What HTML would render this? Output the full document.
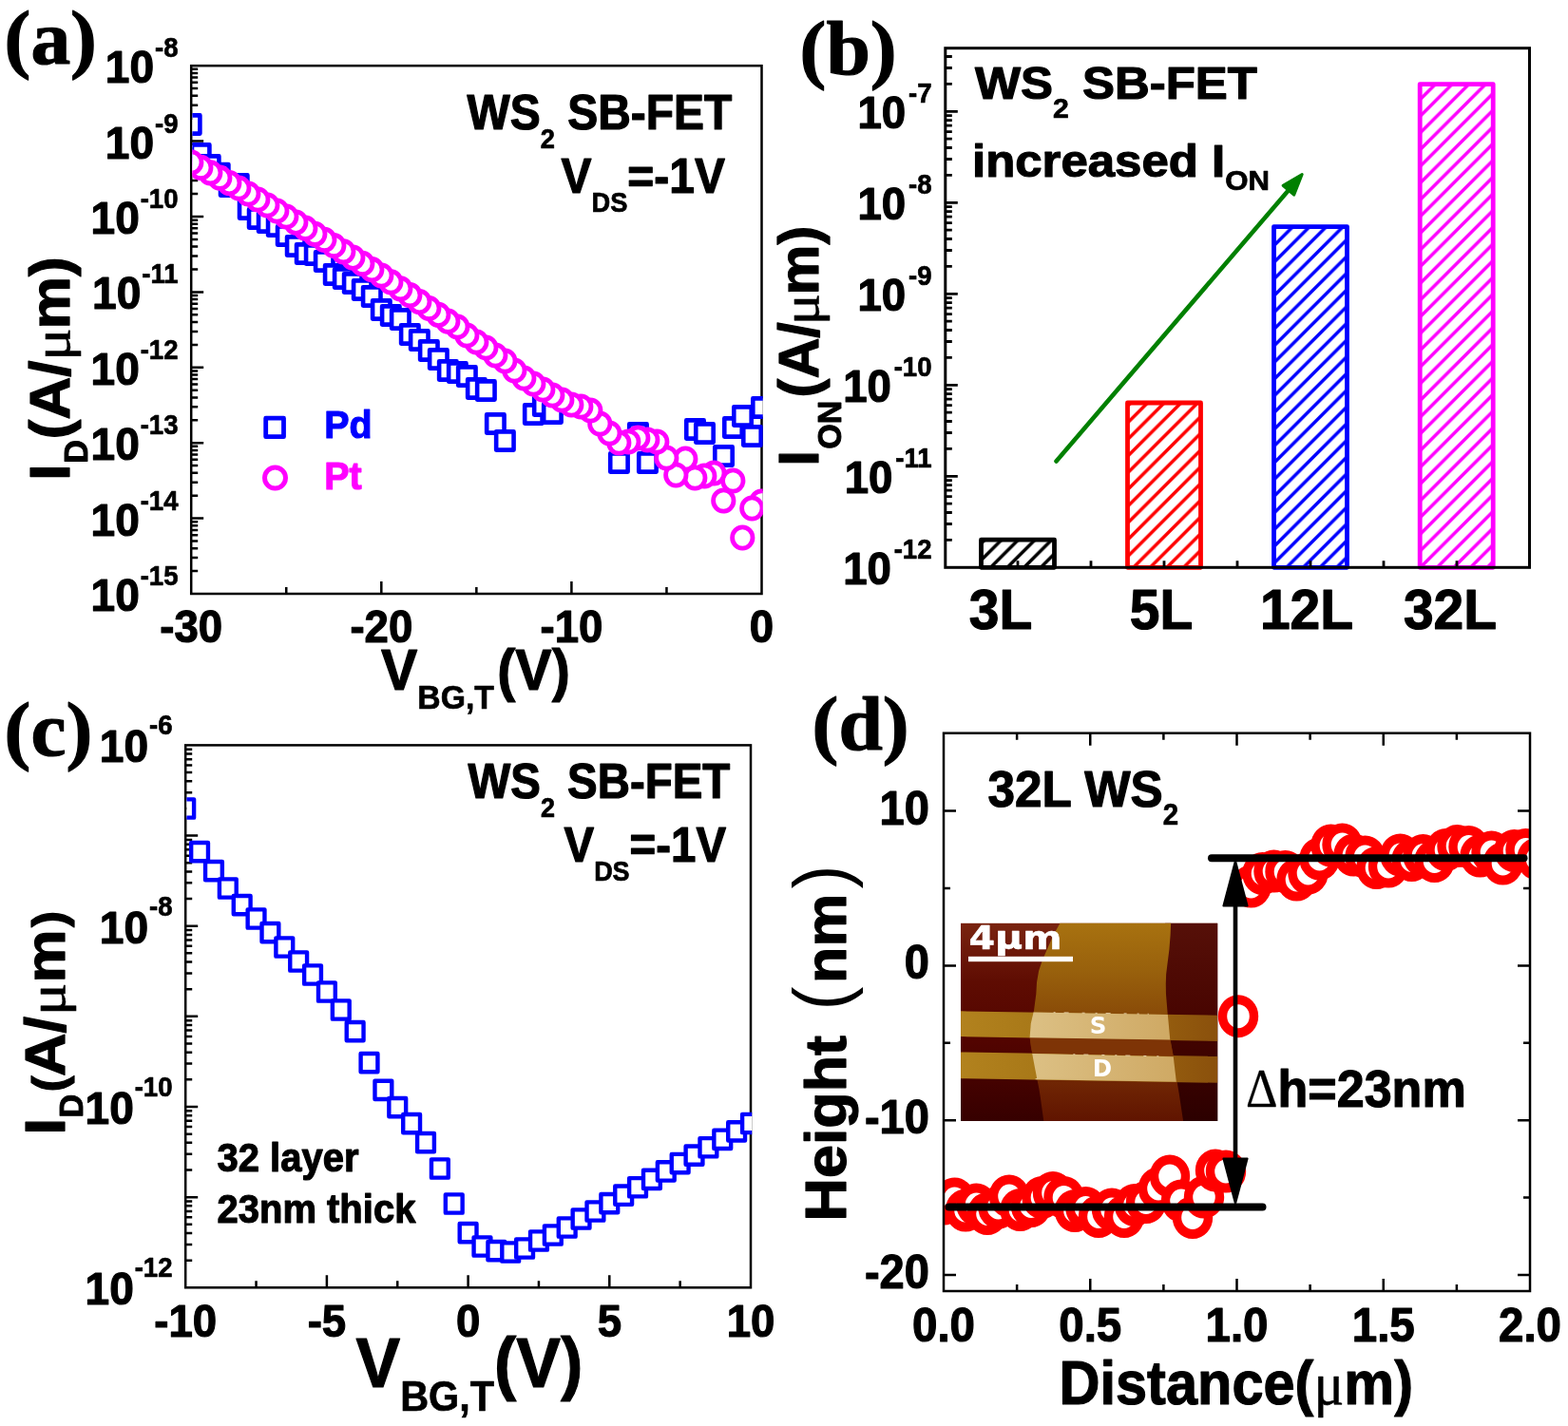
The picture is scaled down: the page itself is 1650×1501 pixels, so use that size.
<!DOCTYPE html>
<html lang="en"><head><meta charset="utf-8"><title>WS2 SB-FET characteristics</title>
<style>html,body{margin:0;padding:0;background:#fff}body{width:1650px;height:1501px;overflow:hidden}svg{display:block;font-family:'Liberation Sans', sans-serif;font-weight:bold;fill:#000}text{stroke-linejoin:round}</style></head><body>
<svg width="1650" height="1501" viewBox="0 0 1650 1501">
<rect width="1650" height="1501" fill="#fff"/>
<defs>
<clipPath id="ca"><rect x="202.4" y="69.2" width="600.3" height="555.8"/></clipPath>
<clipPath id="cc"><rect x="196.4" y="784.4" width="594.8" height="570.9"/></clipPath>
<clipPath id="cd"><rect x="993" y="771.7" width="617" height="587.3"/></clipPath>
<pattern id="hk" width="17.6" height="17.6" patternUnits="userSpaceOnUse" patternTransform="translate(1033 571.5)"><path d="M-4.4 4.4L4.4 -4.4M0 17.6L17.6 0M13.2 22L22 13.2" stroke="#000" stroke-width="3.5" fill="none"/></pattern>
<pattern id="hr" width="17.6" height="17.6" patternUnits="userSpaceOnUse" patternTransform="translate(1187 427)"><path d="M-4.4 4.4L4.4 -4.4M0 17.6L17.6 0M13.2 22L22 13.2" stroke="#ff0000" stroke-width="3.5" fill="none"/></pattern>
<pattern id="hb" width="17.6" height="17.6" patternUnits="userSpaceOnUse" patternTransform="translate(1341 240.5)"><path d="M-4.4 4.4L4.4 -4.4M0 17.6L17.6 0M13.2 22L22 13.2" stroke="#0000ff" stroke-width="3.5" fill="none"/></pattern>
<pattern id="hm" width="17.6" height="17.6" patternUnits="userSpaceOnUse" patternTransform="translate(1495 86.5)"><path d="M-4.4 4.4L4.4 -4.4M0 17.6L17.6 0M13.2 22L22 13.2" stroke="#ff00ff" stroke-width="3.5" fill="none"/></pattern>
<linearGradient id="g0" x1="0" y1="0" x2="0" y2="1"><stop offset="0" stop-color="#7a2410"/><stop offset="0.3" stop-color="#5e0c02"/><stop offset="0.6" stop-color="#520400"/><stop offset="1" stop-color="#360000"/></linearGradient><linearGradient id="g3" x1="0" y1="0" x2="0" y2="1"><stop offset="0" stop-color="#561008"/><stop offset="0.5" stop-color="#470400"/><stop offset="1" stop-color="#2c0000"/></linearGradient><linearGradient id="g1" x1="0" y1="0" x2="0" y2="1"><stop offset="0" stop-color="#a87210"/><stop offset="0.25" stop-color="#98600c"/><stop offset="0.45" stop-color="#8a4c08"/><stop offset="0.62" stop-color="#7c3406"/><stop offset="0.8" stop-color="#702604"/><stop offset="1" stop-color="#601400"/></linearGradient><linearGradient id="g2" x1="0" y1="0" x2="1" y2="0"><stop offset="0" stop-color="#b2821e"/><stop offset="0.3" stop-color="#a87818"/><stop offset="0.8" stop-color="#945c0e"/><stop offset="1" stop-color="#8a500c"/></linearGradient><linearGradient id="g4" x1="0" y1="0" x2="1" y2="0"><stop offset="0" stop-color="#dcc084"/><stop offset="1" stop-color="#cfa964"/></linearGradient><clipPath id="ci"><rect x="1011" y="971.6" width="270.3" height="208.4"/></clipPath>
</defs>
<g id="panel-a">
<path d="M201.2 601.1h7M201.2 587.12h7M201.2 577.2h7M201.2 569.5h7M201.2 563.21h7M201.2 557.9h7M201.2 553.29h7M201.2 549.23h7M201.2 545.6h13M201.2 521.7h7M201.2 507.72h7M201.2 497.8h7M201.2 490.1h7M201.2 483.81h7M201.2 478.5h7M201.2 473.89h7M201.2 469.83h7M201.2 466.2h13M201.2 442.3h7M201.2 428.32h7M201.2 418.4h7M201.2 410.7h7M201.2 404.41h7M201.2 399.1h7M201.2 394.49h7M201.2 390.43h7M201.2 386.8h13M201.2 362.9h7M201.2 348.92h7M201.2 339h7M201.2 331.3h7M201.2 325.01h7M201.2 319.7h7M201.2 315.09h7M201.2 311.03h7M201.2 307.4h13M201.2 283.5h7M201.2 269.52h7M201.2 259.6h7M201.2 251.9h7M201.2 245.61h7M201.2 240.3h7M201.2 235.69h7M201.2 231.63h7M201.2 228h13M201.2 204.1h7M201.2 190.12h7M201.2 180.2h7M201.2 172.5h7M201.2 166.21h7M201.2 160.9h7M201.2 156.29h7M201.2 152.23h7M201.2 148.6h13M201.2 124.7h7M201.2 110.72h7M201.2 100.8h7M201.2 93.1h7M201.2 86.81h7M201.2 81.5h7M201.2 76.89h7M201.2 72.83h7M301.25 625v-7M401.3 625v-13M501.35 625v-7M601.4 625v-13M701.45 625v-7" stroke="#000" stroke-width="2.5" fill="none"/>
<rect x="201.2" y="69.2" width="600.3" height="555.8" fill="none" stroke="#000" stroke-width="2.5"/>
<g clip-path="url(#ca)" fill="#fff" stroke-width="4.6" stroke-linejoin="round">
<g stroke="#0000ff">
<rect x="192" y="121.4" width="18.4" height="19.2"/>
<rect x="202" y="152.4" width="18.4" height="19.2"/>
<rect x="212.01" y="164.4" width="18.4" height="19.2"/>
<rect x="222.01" y="173" width="18.4" height="19.2"/>
<rect x="232.02" y="186.4" width="18.4" height="19.2"/>
<rect x="242.03" y="184.4" width="18.4" height="19.2"/>
<rect x="252.03" y="210.4" width="18.4" height="19.2"/>
<rect x="262.04" y="220.4" width="18.4" height="19.2"/>
<rect x="272.04" y="224.4" width="18.4" height="19.2"/>
<rect x="282.05" y="228.4" width="18.4" height="19.2"/>
<rect x="292.05" y="238.4" width="18.4" height="19.2"/>
<rect x="302.06" y="249.4" width="18.4" height="19.2"/>
<rect x="312.06" y="257.4" width="18.4" height="19.2"/>
<rect x="322.06" y="258.4" width="18.4" height="19.2"/>
<rect x="332.07" y="265.4" width="18.4" height="19.2"/>
<rect x="342.07" y="279.4" width="18.4" height="19.2"/>
<rect x="352.08" y="283.4" width="18.4" height="19.2"/>
<rect x="362.08" y="288.4" width="18.4" height="19.2"/>
<rect x="372.09" y="295.4" width="18.4" height="19.2"/>
<rect x="382.09" y="302.4" width="18.4" height="19.2"/>
<rect x="392.1" y="316.4" width="18.4" height="19.2"/>
<rect x="402.1" y="322.4" width="18.4" height="19.2"/>
<rect x="412.11" y="326.4" width="18.4" height="19.2"/>
<rect x="422.11" y="342.4" width="18.4" height="19.2"/>
<rect x="432.12" y="348.4" width="18.4" height="19.2"/>
<rect x="442.12" y="359.4" width="18.4" height="19.2"/>
<rect x="452.13" y="368.4" width="18.4" height="19.2"/>
<rect x="462.13" y="380.4" width="18.4" height="19.2"/>
<rect x="472.14" y="382.4" width="18.4" height="19.2"/>
<rect x="482.14" y="386.4" width="18.4" height="19.2"/>
<rect x="492.15" y="399.4" width="18.4" height="19.2"/>
<rect x="502.15" y="401.4" width="18.4" height="19.2"/>
<rect x="512.16" y="436.4" width="18.4" height="19.2"/>
<rect x="522.16" y="454.4" width="18.4" height="19.2"/>
<rect x="552.18" y="426.4" width="18.4" height="19.2"/>
<rect x="562.18" y="417.4" width="18.4" height="19.2"/>
<rect x="572.19" y="425.4" width="18.4" height="19.2"/>
<rect x="642.22" y="477.4" width="18.4" height="19.2"/>
<rect x="662.23" y="446.4" width="18.4" height="19.2"/>
<rect x="672.24" y="477.4" width="18.4" height="19.2"/>
<rect x="722.26" y="442.4" width="18.4" height="19.2"/>
<rect x="732.27" y="446.4" width="18.4" height="19.2"/>
<rect x="752.28" y="470.4" width="18.4" height="19.2"/>
<rect x="762.28" y="440.4" width="18.4" height="19.2"/>
<rect x="772.29" y="428.4" width="18.4" height="19.2"/>
<rect x="782.29" y="449.4" width="18.4" height="19.2"/>
<rect x="792.3" y="419.4" width="18.4" height="19.2"/>
</g>
<g stroke="#ff00ff" stroke-width="4.8">
<ellipse cx="801.3" cy="528" rx="10.7" ry="11.2"/>
<ellipse cx="791.3" cy="535" rx="10.7" ry="11.2"/>
<ellipse cx="781.3" cy="566" rx="10.7" ry="11.2"/>
<ellipse cx="771.3" cy="506" rx="10.7" ry="11.2"/>
<ellipse cx="761.3" cy="527" rx="10.7" ry="11.2"/>
<ellipse cx="751.3" cy="498" rx="10.7" ry="11.2"/>
<ellipse cx="741.3" cy="501" rx="10.7" ry="11.2"/>
<ellipse cx="731.3" cy="503" rx="10.7" ry="11.2"/>
<ellipse cx="721.3" cy="483" rx="10.7" ry="11.2"/>
<ellipse cx="711.3" cy="500" rx="10.7" ry="11.2"/>
<ellipse cx="701.3" cy="482" rx="10.7" ry="11.2"/>
<ellipse cx="691.3" cy="465" rx="10.7" ry="11.2"/>
<ellipse cx="681.3" cy="463" rx="10.7" ry="11.2"/>
<ellipse cx="671.3" cy="461" rx="10.7" ry="11.2"/>
<ellipse cx="661.3" cy="465" rx="10.7" ry="11.2"/>
<ellipse cx="651.3" cy="466" rx="10.7" ry="11.2"/>
<ellipse cx="641.3" cy="456" rx="10.7" ry="11.2"/>
<ellipse cx="631.3" cy="446" rx="10.7" ry="11.2"/>
<ellipse cx="621.3" cy="432" rx="10.7" ry="11.2"/>
<ellipse cx="611.3" cy="428" rx="10.7" ry="11.2"/>
<ellipse cx="601.3" cy="426" rx="10.7" ry="11.2"/>
<ellipse cx="591.3" cy="421" rx="10.7" ry="11.2"/>
<ellipse cx="581.3" cy="416" rx="10.7" ry="11.2"/>
<ellipse cx="571.3" cy="410" rx="10.7" ry="11.2"/>
<ellipse cx="561.3" cy="404" rx="10.7" ry="11.2"/>
<ellipse cx="551.3" cy="398" rx="10.7" ry="11.2"/>
<ellipse cx="541.3" cy="390" rx="10.7" ry="11.2"/>
<ellipse cx="531.3" cy="380" rx="10.7" ry="11.2"/>
<ellipse cx="521.3" cy="374" rx="10.7" ry="11.2"/>
<ellipse cx="511.3" cy="366" rx="10.7" ry="11.2"/>
<ellipse cx="501.3" cy="360" rx="10.7" ry="11.2"/>
<ellipse cx="491.3" cy="353" rx="10.7" ry="11.2"/>
<ellipse cx="481.3" cy="344" rx="10.7" ry="11.2"/>
<ellipse cx="471.3" cy="338.17" rx="10.7" ry="11.2"/>
<ellipse cx="461.3" cy="331.33" rx="10.7" ry="11.2"/>
<ellipse cx="451.3" cy="324.5" rx="10.7" ry="11.2"/>
<ellipse cx="441.3" cy="317.6" rx="10.7" ry="11.2"/>
<ellipse cx="431.3" cy="310.7" rx="10.7" ry="11.2"/>
<ellipse cx="421.3" cy="303.8" rx="10.7" ry="11.2"/>
<ellipse cx="411.3" cy="296.9" rx="10.7" ry="11.2"/>
<ellipse cx="401.3" cy="290" rx="10.7" ry="11.2"/>
<ellipse cx="391.3" cy="283.7" rx="10.7" ry="11.2"/>
<ellipse cx="381.3" cy="277.4" rx="10.7" ry="11.2"/>
<ellipse cx="371.3" cy="271.1" rx="10.7" ry="11.2"/>
<ellipse cx="361.3" cy="264.8" rx="10.7" ry="11.2"/>
<ellipse cx="351.3" cy="258.5" rx="10.7" ry="11.2"/>
<ellipse cx="341.3" cy="252.4" rx="10.7" ry="11.2"/>
<ellipse cx="331.3" cy="246.3" rx="10.7" ry="11.2"/>
<ellipse cx="321.3" cy="240.2" rx="10.7" ry="11.2"/>
<ellipse cx="311.3" cy="234.1" rx="10.7" ry="11.2"/>
<ellipse cx="301.3" cy="228" rx="10.7" ry="11.2"/>
<ellipse cx="291.3" cy="222" rx="10.7" ry="11.2"/>
<ellipse cx="281.3" cy="216" rx="10.7" ry="11.2"/>
<ellipse cx="271.3" cy="210" rx="10.7" ry="11.2"/>
<ellipse cx="261.3" cy="204" rx="10.7" ry="11.2"/>
<ellipse cx="251.3" cy="198" rx="10.7" ry="11.2"/>
<ellipse cx="241.3" cy="192.6" rx="10.7" ry="11.2"/>
<ellipse cx="231.3" cy="187.2" rx="10.7" ry="11.2"/>
<ellipse cx="221.3" cy="181.8" rx="10.7" ry="11.2"/>
<ellipse cx="211.3" cy="176.4" rx="10.7" ry="11.2"/>
<ellipse cx="201.3" cy="171" rx="10.7" ry="11.2"/>
</g></g>
<rect x="279.7" y="440.2" width="18.8" height="19.5" fill="#fff" stroke="#0000ff" stroke-width="4.8" stroke-linejoin="round"/>
<ellipse cx="289.5" cy="503" rx="11" ry="11.1" fill="#fff" stroke="#ff00ff" stroke-width="5"/>
<text transform="translate(341.3 461.3) scale(0.95 1)" font-size="41.5" fill="#0000ff" stroke="#0000ff" stroke-width="1.2">Pd</text>
<text transform="translate(341.3 514.6) scale(0.95 1)" font-size="41.5" fill="#ff00ff" stroke="#ff00ff" stroke-width="1.2">Pt</text>
<text transform="translate(187.5 87.2) scale(0.95 1)" font-size="48.5" text-anchor="end" stroke="#000" stroke-width="1.2">10<tspan dx="1" dy="-27" font-size="29" stroke-width="0.7">-8</tspan></text>
<text transform="translate(187.5 166.6) scale(0.95 1)" font-size="48.5" text-anchor="end" stroke="#000" stroke-width="1.2">10<tspan dx="1" dy="-27" font-size="29" stroke-width="0.7">-9</tspan></text>
<text transform="translate(187.5 246) scale(0.95 1)" font-size="48.5" text-anchor="end" stroke="#000" stroke-width="1.2">10<tspan dx="1" dy="-27" font-size="29" stroke-width="0.7">-10</tspan></text>
<text transform="translate(187.5 325.4) scale(0.95 1)" font-size="48.5" text-anchor="end" stroke="#000" stroke-width="1.2">10<tspan dx="1" dy="-27" font-size="29" stroke-width="0.7">-11</tspan></text>
<text transform="translate(187.5 404.8) scale(0.95 1)" font-size="48.5" text-anchor="end" stroke="#000" stroke-width="1.2">10<tspan dx="1" dy="-27" font-size="29" stroke-width="0.7">-12</tspan></text>
<text transform="translate(187.5 484.2) scale(0.95 1)" font-size="48.5" text-anchor="end" stroke="#000" stroke-width="1.2">10<tspan dx="1" dy="-27" font-size="29" stroke-width="0.7">-13</tspan></text>
<text transform="translate(187.5 563.6) scale(0.95 1)" font-size="48.5" text-anchor="end" stroke="#000" stroke-width="1.2">10<tspan dx="1" dy="-27" font-size="29" stroke-width="0.7">-14</tspan></text>
<text transform="translate(187.5 643) scale(0.95 1)" font-size="48.5" text-anchor="end" stroke="#000" stroke-width="1.2">10<tspan dx="1" dy="-27" font-size="29" stroke-width="0.7">-15</tspan></text>
<text transform="translate(201.2 676.3) scale(0.93 1)" font-size="49" text-anchor="middle" stroke="#000" stroke-width="1.2">-30</text>
<text transform="translate(401.3 676.3) scale(0.93 1)" font-size="49" text-anchor="middle" stroke="#000" stroke-width="1.2">-20</text>
<text transform="translate(601.4 676.3) scale(0.93 1)" font-size="49" text-anchor="middle" stroke="#000" stroke-width="1.2">-10</text>
<text transform="translate(801.5 676.3) scale(0.93 1)" font-size="49" text-anchor="middle" stroke="#000" stroke-width="1.2">0</text>
<text transform="translate(73.4 505.8) rotate(-90) scale(1.04 1)" font-size="60" stroke="#000" stroke-width="1.2">I</text>
<text transform="translate(92.4 487.8) rotate(-90) scale(0.99 1)" font-size="34.5" stroke="#000" stroke-width="0.9">D</text>
<text transform="translate(73.4 462.5) rotate(-90) scale(1.04 1)" font-size="60" stroke="#000" stroke-width="1.2">(</text>
<text transform="translate(73.4 441.7) rotate(-90) scale(1.04 1)" font-size="60" stroke="#000" stroke-width="1.2">A/</text>
<text transform="translate(73.4 380.1) rotate(-90) scale(1.2 1)" font-size="54" font-family="'Liberation Serif', serif" font-weight="normal" stroke="#000" stroke-width="0.6">μ</text>
<text transform="translate(73.4 346.5) rotate(-90) scale(1.04 1)" font-size="60" stroke="#000" stroke-width="1.2">m</text>
<text transform="translate(73.4 291) rotate(-90) scale(1.04 1)" font-size="60" stroke="#000" stroke-width="1.2">)</text>
<text transform="translate(401 726.3) scale(0.95 1)" font-size="60.5" stroke="#000" stroke-width="1.2">V<tspan dy="20" font-size="35.5" stroke-width="0.7">BG,T</tspan><tspan dx="3.5" dy="-20" font-size="60.5" stroke-width="1.2">(V)</tspan></text>
<text transform="translate(491.5 135.5) scale(0.94 1)" font-size="51" stroke="#000" stroke-width="1.2">WS<tspan dy="20" font-size="29" stroke-width="0.7">2</tspan><tspan dy="-20" font-size="51" stroke-width="1.2"> SB-FET</tspan></text>
<text transform="translate(590.5 202.5) scale(0.94 1)" font-size="51" stroke="#000" stroke-width="1.2">V<tspan dy="20" font-size="29" stroke-width="0.7">DS</tspan><tspan dy="-20" font-size="51" stroke-width="1.2">=-1V</tspan></text>
<text transform="translate(4.6 67) scale(1.03 1)" font-size="81" font-family="'Liberation Serif', serif" stroke="#000" stroke-width="1.2">(a)</text>
</g>
<g id="panel-b">
<rect x="1032.5" y="568.2" width="77" height="29.1" fill="url(#hk)" stroke="#000" stroke-width="4.8" stroke-linejoin="round"/>
<rect x="1186.5" y="424" width="77" height="173.3" fill="url(#hr)" stroke="#ff0000" stroke-width="4.8" stroke-linejoin="round"/>
<rect x="1340.5" y="238.6" width="77" height="358.7" fill="url(#hb)" stroke="#0000ff" stroke-width="4.8" stroke-linejoin="round"/>
<rect x="1494.2" y="88.6" width="77" height="508.7" fill="url(#hm)" stroke="#ff00ff" stroke-width="4.8" stroke-linejoin="round"/>
<line x1="1111.5" y1="485.5" x2="1357.84" y2="197.95" stroke="#008000" stroke-width="4.6" stroke-linecap="round"/>
<path d="M1370.2 183.52L1361.66 205.17L1350.11 195.28z" fill="#008000" stroke="#008000" stroke-width="3" stroke-linejoin="round"/>
<rect x="994.8" y="50.7" width="614.7" height="546.6" fill="none" stroke="#000" stroke-width="3"/>
<path d="M994.8 568.4h7M994.8 551.5h7M994.8 539.5h7M994.8 530.2h7M994.8 522.6h7M994.8 516.17h7M994.8 510.6h7M994.8 505.69h7M994.8 501.3h13M994.8 472.4h7M994.8 455.5h7M994.8 443.5h7M994.8 434.2h7M994.8 426.6h7M994.8 420.17h7M994.8 414.6h7M994.8 409.69h7M994.8 405.3h13M994.8 376.4h7M994.8 359.5h7M994.8 347.5h7M994.8 338.2h7M994.8 330.6h7M994.8 324.17h7M994.8 318.6h7M994.8 313.69h7M994.8 309.3h13M994.8 280.4h7M994.8 263.5h7M994.8 251.5h7M994.8 242.2h7M994.8 234.6h7M994.8 228.17h7M994.8 222.6h7M994.8 217.69h7M994.8 213.3h13M994.8 184.4h7M994.8 167.5h7M994.8 155.5h7M994.8 146.2h7M994.8 138.6h7M994.8 132.17h7M994.8 126.6h7M994.8 121.69h7M994.8 117.3h13M994.8 88.4h7M994.8 71.5h7M994.8 59.5h7M1071 597.3v-7M1148 597.3v-7M1225 597.3v-7M1302 597.3v-7M1379 597.3v-7M1456 597.3v-7M1533 597.3v-7" stroke="#000" stroke-width="2.8" fill="none"/>
<text transform="translate(980.5 614.8) scale(0.95 1)" font-size="48" text-anchor="end" stroke="#000" stroke-width="1.2">10<tspan dx="3" dy="-27" font-size="29" stroke-width="0.7">-12</tspan></text>
<text transform="translate(980.5 518.8) scale(0.95 1)" font-size="48" text-anchor="end" stroke="#000" stroke-width="1.2">10<tspan dx="3" dy="-27" font-size="29" stroke-width="0.7">-11</tspan></text>
<text transform="translate(980.5 422.8) scale(0.95 1)" font-size="48" text-anchor="end" stroke="#000" stroke-width="1.2">10<tspan dx="3" dy="-27" font-size="29" stroke-width="0.7">-10</tspan></text>
<text transform="translate(980.5 326.8) scale(0.95 1)" font-size="48" text-anchor="end" stroke="#000" stroke-width="1.2">10<tspan dx="3" dy="-27" font-size="29" stroke-width="0.7">-9</tspan></text>
<text transform="translate(980.5 230.8) scale(0.95 1)" font-size="48" text-anchor="end" stroke="#000" stroke-width="1.2">10<tspan dx="3" dy="-27" font-size="29" stroke-width="0.7">-8</tspan></text>
<text transform="translate(980.5 134.8) scale(0.95 1)" font-size="48" text-anchor="end" stroke="#000" stroke-width="1.2">10<tspan dx="3" dy="-27" font-size="29" stroke-width="0.7">-7</tspan></text>
<text transform="translate(1053 662) scale(0.95 1)" font-size="60" text-anchor="middle" stroke="#000" stroke-width="1.2">3L</text>
<text transform="translate(1222 662) scale(0.95 1)" font-size="60" text-anchor="middle" stroke="#000" stroke-width="1.2">5L</text>
<text transform="translate(1375 662) scale(0.95 1)" font-size="60" text-anchor="middle" stroke="#000" stroke-width="1.2">12L</text>
<text transform="translate(1526 662) scale(0.95 1)" font-size="60" text-anchor="middle" stroke="#000" stroke-width="1.2">32L</text>
<text transform="translate(860.8 490.8) rotate(-90) scale(0.99 1)" font-size="60" stroke="#000" stroke-width="1.2">I</text>
<text transform="translate(884.6 472.8) rotate(-90) scale(0.99 1)" font-size="34.5" stroke="#000" stroke-width="0.9">ON</text>
<text transform="translate(860.8 418.4) rotate(-90) scale(0.99 1)" font-size="60" stroke="#000" stroke-width="1.2">(</text>
<text transform="translate(860.8 398.6) rotate(-90) scale(0.99 1)" font-size="60" stroke="#000" stroke-width="1.2">A/</text>
<text transform="translate(860.8 342.3) rotate(-90) scale(1.15 1)" font-size="54" font-family="'Liberation Serif', serif" font-weight="normal" stroke="#000" stroke-width="0.6">μ</text>
<text transform="translate(860.8 310.4) rotate(-90) scale(0.99 1)" font-size="60" stroke="#000" stroke-width="1.2">m</text>
<text transform="translate(860.8 257.6) rotate(-90) scale(0.99 1)" font-size="60" stroke="#000" stroke-width="1.2">)</text>
<text transform="translate(1026 104.3) scale(1.04 1)" font-size="49" stroke="#000" stroke-width="1.2">WS<tspan dy="20" font-size="29" stroke-width="0.7">2</tspan><tspan dy="-20" font-size="49" stroke-width="1.2"> SB-FET</tspan></text>
<text transform="translate(1023 185.5) scale(1.04 1)" font-size="49" stroke="#000" stroke-width="1.2">increased I<tspan dy="14" font-size="30" stroke-width="0.7">ON</tspan></text>
<text transform="translate(841.6 78) scale(1.03 1)" font-size="81" font-family="'Liberation Serif', serif" stroke="#000" stroke-width="1.2">(b)</text>
</g>
<g id="panel-c">
<path d="M195.2 1326.66h7M195.2 1309.9h7M195.2 1298.01h7M195.2 1288.79h7M195.2 1281.26h7M195.2 1274.89h7M195.2 1269.37h7M195.2 1264.5h7M195.2 1260.15h13M195.2 1231.51h7M195.2 1214.75h7M195.2 1202.86h7M195.2 1193.64h7M195.2 1186.11h7M195.2 1179.74h7M195.2 1174.22h7M195.2 1169.35h7M195.2 1165h13M195.2 1136.36h7M195.2 1119.6h7M195.2 1107.71h7M195.2 1098.49h7M195.2 1090.96h7M195.2 1084.59h7M195.2 1079.07h7M195.2 1074.2h7M195.2 1069.85h13M195.2 1041.21h7M195.2 1024.45h7M195.2 1012.56h7M195.2 1003.34h7M195.2 995.81h7M195.2 989.44h7M195.2 983.92h7M195.2 979.05h7M195.2 974.7h13M195.2 946.06h7M195.2 929.3h7M195.2 917.41h7M195.2 908.19h7M195.2 900.66h7M195.2 894.29h7M195.2 888.77h7M195.2 883.9h7M195.2 879.55h13M195.2 850.91h7M195.2 834.15h7M195.2 822.26h7M195.2 813.04h7M195.2 805.51h7M195.2 799.14h7M195.2 793.62h7M195.2 788.75h7M269.55 1355.3v-7M343.9 1355.3v-13M418.25 1355.3v-7M492.6 1355.3v-13M566.95 1355.3v-7M641.3 1355.3v-13M715.65 1355.3v-7" stroke="#000" stroke-width="2.5" fill="none"/>
<rect x="195.2" y="784.4" width="594.8" height="570.9" fill="none" stroke="#000" stroke-width="2.5"/>
<g clip-path="url(#cc)" fill="#fff" stroke="#0000ff" stroke-width="4.4" stroke-linejoin="round">
<rect x="186.3" y="841.35" width="17.8" height="19.3"/>
<rect x="201.17" y="886.95" width="17.8" height="19.3"/>
<rect x="216.04" y="906.95" width="17.8" height="19.3"/>
<rect x="230.91" y="925.35" width="17.8" height="19.3"/>
<rect x="245.78" y="942.95" width="17.8" height="19.3"/>
<rect x="260.65" y="957.35" width="17.8" height="19.3"/>
<rect x="275.52" y="971.95" width="17.8" height="19.3"/>
<rect x="290.39" y="987.35" width="17.8" height="19.3"/>
<rect x="305.26" y="1002.35" width="17.8" height="19.3"/>
<rect x="320.13" y="1016.35" width="17.8" height="19.3"/>
<rect x="335" y="1034.35" width="17.8" height="19.3"/>
<rect x="349.87" y="1053.35" width="17.8" height="19.3"/>
<rect x="364.74" y="1075.95" width="17.8" height="19.3"/>
<rect x="379.61" y="1108.95" width="17.8" height="19.3"/>
<rect x="394.48" y="1137.75" width="17.8" height="19.3"/>
<rect x="409.35" y="1155.95" width="17.8" height="19.3"/>
<rect x="424.22" y="1172.95" width="17.8" height="19.3"/>
<rect x="439.09" y="1192.95" width="17.8" height="19.3"/>
<rect x="453.96" y="1220.35" width="17.8" height="19.3"/>
<rect x="468.83" y="1257.35" width="17.8" height="19.3"/>
<rect x="483.7" y="1287.95" width="17.8" height="19.3"/>
<rect x="498.57" y="1302.35" width="17.8" height="19.3"/>
<rect x="513.44" y="1306.95" width="17.8" height="19.3"/>
<rect x="528.31" y="1308.35" width="17.8" height="19.3"/>
<rect x="543.18" y="1304.35" width="17.8" height="19.3"/>
<rect x="558.05" y="1296.35" width="17.8" height="19.3"/>
<rect x="572.92" y="1290.35" width="17.8" height="19.3"/>
<rect x="587.79" y="1282.35" width="17.8" height="19.3"/>
<rect x="602.66" y="1273.35" width="17.8" height="19.3"/>
<rect x="617.53" y="1265.35" width="17.8" height="19.3"/>
<rect x="632.4" y="1256.94" width="17.8" height="19.3"/>
<rect x="647.27" y="1248.53" width="17.8" height="19.3"/>
<rect x="662.14" y="1240.12" width="17.8" height="19.3"/>
<rect x="677.01" y="1231.71" width="17.8" height="19.3"/>
<rect x="691.88" y="1223.3" width="17.8" height="19.3"/>
<rect x="706.75" y="1214.9" width="17.8" height="19.3"/>
<rect x="721.62" y="1206.49" width="17.8" height="19.3"/>
<rect x="736.49" y="1198.08" width="17.8" height="19.3"/>
<rect x="751.36" y="1189.67" width="17.8" height="19.3"/>
<rect x="766.23" y="1181.26" width="17.8" height="19.3"/>
<rect x="781.1" y="1172.85" width="17.8" height="19.3"/>
</g>
<text transform="translate(181.5 802.4) scale(0.95 1)" font-size="48.5" text-anchor="end" stroke="#000" stroke-width="1.2">10<tspan dx="1" dy="-29" font-size="29" stroke-width="0.7">-6</tspan></text>
<text transform="translate(181.5 992.7) scale(0.95 1)" font-size="48.5" text-anchor="end" stroke="#000" stroke-width="1.2">10<tspan dx="1" dy="-29" font-size="29" stroke-width="0.7">-8</tspan></text>
<text transform="translate(181.5 1183) scale(0.95 1)" font-size="48.5" text-anchor="end" stroke="#000" stroke-width="1.2">10<tspan dx="1" dy="-29" font-size="29" stroke-width="0.7">-10</tspan></text>
<text transform="translate(181.5 1373.3) scale(0.95 1)" font-size="48.5" text-anchor="end" stroke="#000" stroke-width="1.2">10<tspan dx="1" dy="-29" font-size="29" stroke-width="0.7">-12</tspan></text>
<text transform="translate(195.2 1407) scale(0.93 1)" font-size="49" text-anchor="middle" stroke="#000" stroke-width="1.2">-10</text>
<text transform="translate(343.9 1407) scale(0.93 1)" font-size="49" text-anchor="middle" stroke="#000" stroke-width="1.2">-5</text>
<text transform="translate(492.6 1407) scale(0.93 1)" font-size="49" text-anchor="middle" stroke="#000" stroke-width="1.2">0</text>
<text transform="translate(641.3 1407) scale(0.93 1)" font-size="49" text-anchor="middle" stroke="#000" stroke-width="1.2">5</text>
<text transform="translate(790 1407) scale(0.93 1)" font-size="49" text-anchor="middle" stroke="#000" stroke-width="1.2">10</text>
<text transform="translate(67.8 1194.6) rotate(-90) scale(1.05 1)" font-size="60" stroke="#000" stroke-width="1.2">I</text>
<text transform="translate(86.8 1176.6) rotate(-90) scale(0.99 1)" font-size="34.5" stroke="#000" stroke-width="0.9">D</text>
<text transform="translate(67.8 1149.4) rotate(-90) scale(1.05 1)" font-size="49" stroke="#000" stroke-width="1.2">(</text>
<text transform="translate(67.8 1132.9) rotate(-90) scale(1.05 1)" font-size="60" stroke="#000" stroke-width="1.2">A/</text>
<text transform="translate(67.8 1069.3) rotate(-90) scale(1.2 1)" font-size="54" font-family="'Liberation Serif', serif" font-weight="normal" stroke="#000" stroke-width="0.6">μ</text>
<text transform="translate(67.8 1034.6) rotate(-90) scale(1.05 1)" font-size="60" stroke="#000" stroke-width="1.2">m</text>
<text transform="translate(67.8 976.1) rotate(-90) scale(1.05 1)" font-size="49" stroke="#000" stroke-width="1.2">)</text>
<text transform="translate(374.5 1459.5) scale(0.94 1)" font-size="74.5" stroke="#000" stroke-width="1.2">V<tspan dy="25" font-size="44" stroke-width="0.7">BG,T</tspan><tspan dy="-25" font-size="74.5" stroke-width="1.2">(V)</tspan></text>
<text transform="translate(492.5 839.5) scale(0.93 1)" font-size="51" stroke="#000" stroke-width="1.2">WS<tspan dy="20" font-size="29" stroke-width="0.7">2</tspan><tspan dy="-20" font-size="51" stroke-width="1.2"> SB-FET</tspan></text>
<text transform="translate(593.5 906.5) scale(0.93 1)" font-size="51" stroke="#000" stroke-width="1.2">V<tspan dy="20" font-size="29" stroke-width="0.7">DS</tspan><tspan dy="-20" font-size="51" stroke-width="1.2">=-1V</tspan></text>
<text transform="translate(228.5 1233) scale(0.93 1)" font-size="43" stroke="#000" stroke-width="1.2">32 layer</text>
<text transform="translate(228.5 1287) scale(0.93 1)" font-size="43" stroke="#000" stroke-width="1.2">23nm thick</text>
<text transform="translate(4.6 795) scale(1.03 1)" font-size="81" font-family="'Liberation Serif', serif" stroke="#000" stroke-width="1.2">(c)</text>
</g>
<g id="panel-d">
<path d="M993 853.6h13M1610 853.6h-13M993 935h7M1610 935h-7M993 1016.4h13M1610 1016.4h-13M993 1097.8h7M1610 1097.8h-7M993 1179.2h13M1610 1179.2h-13M993 1260.6h7M1610 1260.6h-7M993 1342h13M1610 1342h-13M1070.12 1359v-7M1070.12 771.7v7M1147.25 1359v-13M1147.25 771.7v13M1224.38 1359v-7M1224.38 771.7v7M1301.5 1359v-13M1301.5 771.7v13M1378.62 1359v-7M1378.62 771.7v7M1455.75 1359v-13M1455.75 771.7v13M1532.88 1359v-7M1532.88 771.7v7" stroke="#000" stroke-width="2.5" fill="none"/>
<g clip-path="url(#ci)">
<rect x="1011" y="971.6" width="270.3" height="208.4" fill="url(#g0)"/>
<rect x="1226.09" y="971.6" width="60" height="208.4" fill="url(#g3)"/>
<path d="M1115.55 971.56L1108.64 984L1101.73 999.55L1096.55 1011.64L1093.09 1022L1091.02 1034.09L1090.33 1046.18L1087.91 1064.32L1084.8 1077.27L1083.59 1091.09L1084.8 1101.45L1086.18 1108.36L1088.6 1122.18L1091.36 1136L1093.44 1146.36L1094.82 1155L1098.27 1180.05L1245.09 1180.05L1240.77 1151.55L1237.32 1130.82L1234.73 1111.82L1231.27 1092.82L1229.55 1077.27L1228.68 1066.91L1226.95 1046.18L1226.78 1035.82L1227.13 1025.45L1228.85 1011.64L1230.41 999.55L1231.62 984L1232.14 971.56z" fill="url(#g1)"/>
<path d="M1011.05 1064.32L1281.36 1068.64L1281.36 1095.93L1011.05 1091.09z" fill="url(#g2)"/>
<path d="M1011.05 1107.5L1281.36 1111.82L1281.36 1139.8L1011.05 1135.14z" fill="url(#g2)"/>
<path d="M1083.59 1091.78L1231.27 1094.2L1234.73 1111.82L1086.18 1108.71z" fill="#7e3406"/>
<path d="M1087.56 1065.53L1228.85 1067.95L1231.27 1094.55L1083.59 1092.13L1084.8 1077.27z" fill="url(#g4)"/>
<path d="M1086.18 1108.88L1234.73 1112.16L1237.84 1138.76L1091.36 1136.35z" fill="url(#g4)"/>
<path d="M1108.64 1065.7L1208.82 1067.25M1129.36 1109.75L1227.82 1111.99M1089.64 1135.65L1094.82 1135.83" stroke="#f2e4c0" stroke-width="1" fill="none" stroke-dasharray="2 9 5 14 3 11" opacity="0.8"/>
</g>
<rect x="1019" y="1006.8" width="110" height="5.4" fill="#fff"/>
<text transform="translate(1019.5 998.6) scale(1.2 1)" font-size="33" fill="#fff" stroke="#fff" stroke-width="0.5" font-family="'DejaVu Sans', sans-serif">4µm</text>
<text x="1155.5" y="1088.3" font-size="24.5" fill="#fff" text-anchor="middle" font-family="'DejaVu Sans', sans-serif">S</text>
<text x="1160" y="1133.3" font-size="24.5" fill="#fff" text-anchor="middle" font-family="'DejaVu Sans', sans-serif">D</text>
<g clip-path="url(#cd)"><g transform="scale(1 1.06)" fill="#fff" stroke="#ff0000" stroke-width="9.4">
<circle cx="993" cy="1195.28" r="16.5"/>
<circle cx="1004.5" cy="1190.57" r="16.5"/>
<circle cx="1016" cy="1201.89" r="16.5"/>
<circle cx="1027.5" cy="1196.23" r="16.5"/>
<circle cx="1039" cy="1205.19" r="16.5"/>
<circle cx="1050.5" cy="1199.06" r="16.5"/>
<circle cx="1062" cy="1187.74" r="16.5"/>
<circle cx="1073.5" cy="1201.42" r="16.5"/>
<circle cx="1085" cy="1197.64" r="16.5"/>
<circle cx="1096.5" cy="1189.15" r="16.5"/>
<circle cx="1108" cy="1184.43" r="16.5"/>
<circle cx="1119.5" cy="1189.15" r="16.5"/>
<circle cx="1131" cy="1202.36" r="16.5"/>
<circle cx="1142.5" cy="1199.53" r="16.5"/>
<circle cx="1156" cy="1208.02" r="16.5"/>
<circle cx="1170" cy="1200.94" r="16.5"/>
<circle cx="1183" cy="1208.02" r="16.5"/>
<circle cx="1194" cy="1196.7" r="16.5"/>
<circle cx="1206" cy="1193.87" r="16.5"/>
<circle cx="1219" cy="1180.19" r="16.5"/>
<circle cx="1231" cy="1167.92" r="16.5"/>
<circle cx="1243" cy="1192.45" r="16.5"/>
<circle cx="1255" cy="1208.96" r="16.5"/>
<circle cx="1267" cy="1188.68" r="16.5"/>
<circle cx="1279" cy="1162.26" r="16.5"/>
<circle cx="1290" cy="1163.21" r="16.5"/>
<circle cx="1303" cy="1009.15" r="16.5"/>
<circle cx="1316.5" cy="880.19" r="16.5"/>
<circle cx="1328.5" cy="867.45" r="16.5"/>
<circle cx="1340.5" cy="865.09" r="16.5"/>
<circle cx="1352.5" cy="865.57" r="16.5"/>
<circle cx="1364.5" cy="873.58" r="16.5"/>
<circle cx="1376.5" cy="866.98" r="16.5"/>
<circle cx="1388.5" cy="852.83" r="16.5"/>
<circle cx="1400.5" cy="839.62" r="16.5"/>
<circle cx="1412.5" cy="838.68" r="16.5"/>
<circle cx="1424.5" cy="849.06" r="16.5"/>
<circle cx="1436.5" cy="850.94" r="16.5"/>
<circle cx="1448.5" cy="861.79" r="16.5"/>
<circle cx="1461" cy="860.38" r="16.5"/>
<circle cx="1473.5" cy="849.06" r="16.5"/>
<circle cx="1485.5" cy="854.25" r="16.5"/>
<circle cx="1497.5" cy="849.53" r="16.5"/>
<circle cx="1509.5" cy="855.19" r="16.5"/>
<circle cx="1521.5" cy="843.87" r="16.5"/>
<circle cx="1533.5" cy="840.09" r="16.5"/>
<circle cx="1545.5" cy="841.04" r="16.5"/>
<circle cx="1557.5" cy="850" r="16.5"/>
<circle cx="1569.5" cy="846.23" r="16.5"/>
<circle cx="1581.5" cy="857.55" r="16.5"/>
<circle cx="1593.5" cy="844.81" r="16.5"/>
<circle cx="1605.5" cy="843.87" r="16.5"/>
<circle cx="1617.5" cy="852.83" r="16.5"/>
</g></g>
<line x1="998.5" y1="1270.5" x2="1328.5" y2="1270.5" stroke="#000" stroke-width="8" stroke-linecap="round"/>
<line x1="1275" y1="903.3" x2="1603.5" y2="903.3" stroke="#000" stroke-width="8" stroke-linecap="round"/>
<line x1="1300" y1="950" x2="1300" y2="1225" stroke="#000" stroke-width="4.6"/>
<path d="M1300 906L1312.6 953.5H1287.4z" fill="#000" stroke="#000" stroke-width="2" stroke-linejoin="round"/>
<path d="M1300 1267L1312.6 1219.5H1287.4z" fill="#000" stroke="#000" stroke-width="2" stroke-linejoin="round"/>
<rect x="993" y="771.7" width="617" height="587.3" fill="none" stroke="#000" stroke-width="2.5"/>
<text transform="translate(977.8 867.6) scale(0.94 1)" font-size="50" text-anchor="end" stroke="#000" stroke-width="1.2">10</text>
<text transform="translate(977.8 1030.4) scale(0.94 1)" font-size="50" text-anchor="end" stroke="#000" stroke-width="1.2">0</text>
<text transform="translate(977.8 1193.2) scale(0.94 1)" font-size="50" text-anchor="end" stroke="#000" stroke-width="1.2">-10</text>
<text transform="translate(977.8 1356) scale(0.94 1)" font-size="50" text-anchor="end" stroke="#000" stroke-width="1.2">-20</text>
<text transform="translate(993 1411.8) scale(0.95 1)" font-size="50" text-anchor="middle" stroke="#000" stroke-width="1.2">0.0</text>
<text transform="translate(1147.25 1411.8) scale(0.95 1)" font-size="50" text-anchor="middle" stroke="#000" stroke-width="1.2">0.5</text>
<text transform="translate(1301.5 1411.8) scale(0.95 1)" font-size="50" text-anchor="middle" stroke="#000" stroke-width="1.2">1.0</text>
<text transform="translate(1455.75 1411.8) scale(0.95 1)" font-size="50" text-anchor="middle" stroke="#000" stroke-width="1.2">1.5</text>
<text transform="translate(1610 1411.8) scale(0.95 1)" font-size="50" text-anchor="middle" stroke="#000" stroke-width="1.2">2.0</text>
<text transform="translate(890.3 1285.4) rotate(-90) scale(1.03 1)" font-size="61" stroke="#000" stroke-width="1.2">Height</text>
<text transform="translate(890.3 1034.9) rotate(-90) scale(1.03 1)" font-size="61" stroke="#000" stroke-width="1.2">nm</text>
<text transform="translate(891 1063.5) rotate(-90) scale(0.95 1)" font-size="79" font-weight="normal">(</text>
<text transform="translate(891 935.4) rotate(-90) scale(0.95 1)" font-size="79" font-weight="normal">)</text>
<text transform="translate(1114.5 1478) scale(0.93 1)" font-size="64" stroke="#000" stroke-width="1.2">Distance(<tspan font-family="'Liberation Serif', serif" font-weight="normal" stroke-width="0.5">μ</tspan><tspan stroke-width="1.2">m)</tspan></text>
<text transform="translate(1039.5 849.3) scale(0.95 1)" font-size="54" stroke="#000" stroke-width="1.2">32L WS<tspan dy="19" font-size="31" stroke-width="0.7">2</tspan></text>
<text transform="translate(1311 1165) scale(0.93 1)" font-size="56" stroke="#000" stroke-width="1.2"><tspan font-family="'Liberation Serif', serif" font-weight="normal" stroke-width="0.3">Δ</tspan><tspan stroke-width="1.2">h=23nm</tspan></text>
<text transform="translate(854.6 789) scale(1.03 1)" font-size="81" font-family="'Liberation Serif', serif" stroke="#000" stroke-width="1.2">(d)</text>
</g>
</svg></body></html>
